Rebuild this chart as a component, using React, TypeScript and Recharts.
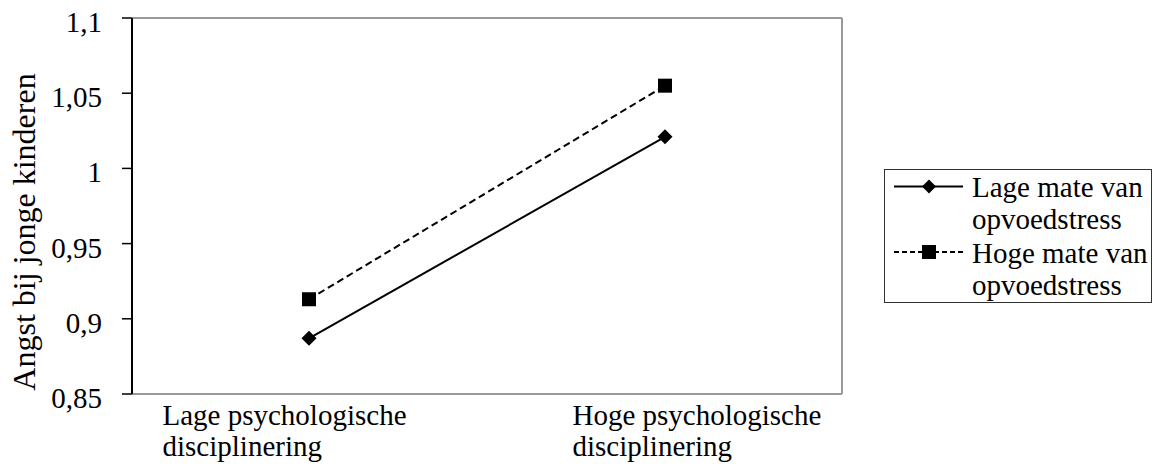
import React from 'react';
import { LineChart, Line, XAxis, YAxis, Legend, CartesianGrid } from 'recharts';

const categories = ['Lage psychologische disciplinering', 'Hoge psychologische disciplinering'];
const lageStress = [0.887, 1.021];
const hogeStress = [0.913, 1.055];
const yTicks = [0.85, 0.9, 0.95, 1, 1.05, 1.1];
const seriesNames = ['Lage mate van opvoedstress', 'Hoge mate van opvoedstress'];
const yLabel = 'Angst bij jonge kinderen';

const data = categories.map((c, i) => ({ cat: c, lage: lageStress[i], hoge: hogeStress[i] }));

const FONT = '"Liberation Serif", "Times New Roman", serif';
const LABEL_SHIFT = [-146.5, -92.5];

// two-line category label, first word pair on line one
const CatTick = (props: any) => {
  const { x, y, payload, index } = props;
  const words = String(payload.value).split(' ');
  const line1 = words.slice(0, 2).join(' ');
  const line2 = words.slice(2).join(' ');
  const sx = x + (LABEL_SHIFT[index] ?? 0);
  return (
    <text x={sx} y={y} style={{ fontFamily: FONT }} fontSize={29} fill="#000" textAnchor="start">
      <tspan x={sx} y={y + 31}>{line1}</tspan>
      <tspan x={sx} y={y + 62}>{line2}</tspan>
    </text>
  );
};

const YTick = (props: any) => {
  const { x, y, payload } = props;
  return (
    <text x={x} y={y + 14} textAnchor="end" style={{ fontFamily: FONT }} fontSize={29} fill="#000">
      {String(payload.value).replace('.', ',')}
    </text>
  );
};

const Diamond = (props: any) => {
  const { cx, cy, index } = props;
  if (cx == null || cy == null) return <g key={index} />;
  return <path key={index} d={`M${cx},${cy - 7.5}L${cx + 7.5},${cy}L${cx},${cy + 7.5}L${cx - 7.5},${cy}Z`} fill="#000" />;
};

const Square = (props: any) => {
  const { cx, cy, index } = props;
  if (cx == null || cy == null) return <g key={index} />;
  return <rect key={index} x={cx - 7} y={cy - 7} width={14} height={14} fill="#000" />;
};

const LegendBox = () => {
  const rows = [
    { name: seriesNames[0], dash: undefined, marker: 'diamond' },
    { name: seriesNames[1], dash: '5 3', marker: 'square' },
  ];
  return (
    <svg width={268} height={134} style={{ overflow: 'visible', display: 'block' }}>
      <rect x={0.5} y={0.5} width={267} height={133} fill="#fff" stroke="#333" strokeWidth={1} />
      {rows.map((r, i) => {
        const ly = 17.5 + i * 65.5;
        const words = r.name.split(' ');
        return (
          <g key={r.name}>
            <line x1={10} x2={79} y1={ly} y2={ly} stroke="#000" strokeWidth={2} strokeDasharray={r.dash} />
            {r.marker === 'diamond' ? (
              <path d={`M45,${ly - 7}L52,${ly}L45,${ly + 7}L38,${ly}Z`} fill="#000" />
            ) : (
              <rect x={38} y={ly - 7} width={14} height={14} fill="#000" />
            )}
            <text style={{ fontFamily: FONT }} fontSize={29} fill="#000">
              <tspan x={88} y={28 + i * 65.5}>{words.slice(0, 3).join(' ')}</tspan>
              <tspan x={88} y={60 + i * 65.5}>{words.slice(3).join(' ')}</tspan>
            </text>
          </g>
        );
      })}
    </svg>
  );
};

const YTitle = () => {
  return (
    <text x={35} y={232} transform="rotate(-90, 35, 232)" textAnchor="middle" style={{ fontFamily: FONT }} fontSize={32} fill="#000">
      {yLabel}
    </text>
  );
};

export default function App() {
  return (
    <div style={{ position: 'absolute', left: 0, top: 0, background: '#fff', fontFamily: FONT }}>
      <LineChart width={1153} height={468} data={data} margin={{ top: 18, right: 43, bottom: 0, left: 0 }}>
        <CartesianGrid
          stroke="#999"
          strokeWidth={2}
          horizontalCoordinatesGenerator={({ offset }: any) => [offset.top]}
          verticalCoordinatesGenerator={({ offset }: any) => [offset.left + offset.width]}
        />
        <XAxis
          dataKey="cat"
          height={74}
          padding={{ left: 177, right: 177 }}
          axisLine={{ stroke: '#999', strokeWidth: 2 }}
          tickLine={false}
          tickSize={0}
          tickMargin={0}
          tick={<CatTick />}
          interval={0}
        />
        <YAxis
          width={132}
          domain={[0.85, 1.1]}
          ticks={yTicks}
          allowDataOverflow
          axisLine={{ stroke: '#000', strokeWidth: 2 }}
          tickLine={{ stroke: '#000', strokeWidth: 1.5 }}
          tickSize={10}
          tickMargin={20}
          tick={<YTick />}
          label={<YTitle />}
        />
        <Legend
          layout="vertical"
          align="right"
          verticalAlign="middle"
          content={<LegendBox />}
          wrapperStyle={{ position: 'absolute', left: 884, top: 169, width: 268, height: 134 }}
        />
        <Line
          type="linear"
          dataKey="lage"
          name={seriesNames[0]}
          stroke="#000"
          strokeWidth={2}
          dot={Diamond}
          activeDot={false}
          isAnimationActive={false}
        />
        <Line
          type="linear"
          dataKey="hoge"
          name={seriesNames[1]}
          stroke="#000"
          strokeWidth={2}
          strokeDasharray="7 4"
          dot={Square}
          activeDot={false}
          isAnimationActive={false}
        />
      </LineChart>
    </div>
  );
}
